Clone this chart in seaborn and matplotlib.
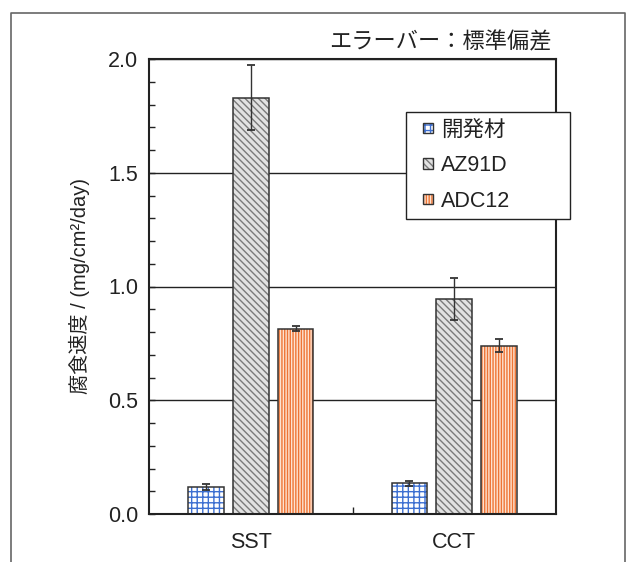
import numpy as np
import pandas as pd
import matplotlib
matplotlib.use("Agg")
import matplotlib.pyplot as plt
import seaborn as sns
from matplotlib.patches import Rectangle, Patch
from matplotlib.lines import Line2D
from matplotlib.legend_handler import HandlerBase
from matplotlib.ticker import MultipleLocator, FixedLocator

# Corrosion rate (mean and standard deviation) per test and material
tests = ["SST", "CCT"]
materials = ["開発材", "AZ91D", "ADC12"]
rate_sst = [0.12, 1.83, 0.815]
rate_cct = [0.135, 0.945, 0.74]
sd_sst = [0.013, 0.143, 0.010]
sd_cct = [0.012, 0.092, 0.028]
y_ticks = [0.0, 0.5, 1.0, 1.5, 2.0]

ylabel = "腐食速度 / (mg/cm²/day)"
note = "エラーバー：標準偏差"

face_colors = ["white", "#e2e2e2", "#fde2d0"]
hatch_colors = ["#3d6fd1", "#7a7a7a", "#ee7535"]
hatches = ["+++", "\\\\\\\\\\", "||||||"]
ink = "#222222"
outline = "#333333"

df = pd.DataFrame({
    "test": np.repeat(tests, len(materials)),
    "material": materials * len(tests),
    "rate": rate_sst + rate_cct,
    "sd": sd_sst + sd_cct,
})


class SwatchHandler(HandlerBase):
    """Small hatched square with a dark outline, right-aligned in the handle box."""

    def create_artists(self, legend, orig_handle, xdescent, ydescent,
                       width, height, fontsize, trans):
        side = 0.48 * fontsize
        x = -xdescent + width - side
        y = -ydescent + (height - side) / 2
        fill = Rectangle((x, y), side, side, fc=orig_handle.get_facecolor(),
                         ec=orig_handle.get_edgecolor(), hatch=orig_handle.get_hatch(),
                         lw=0, transform=trans)
        edge = Rectangle((x, y), side, side, fill=False, ec=outline, lw=1.0,
                         transform=trans)
        return [fill, edge]


sns.set_theme(style="white")
plt.rcParams["font.family"] = ["Liberation Sans", "Noto Sans CJK JP"]
plt.rcParams["hatch.linewidth"] = 1.0
plt.rcParams["text.color"] = ink
plt.rcParams["axes.labelcolor"] = ink
plt.rcParams["xtick.color"] = ink
plt.rcParams["ytick.color"] = ink

W, H = 627, 562
fig = plt.figure(figsize=(W / 100, H / 100), dpi=100)
ax = fig.add_axes([149 / W, 1 - 514 / H, (556 - 149) / W, (514 - 59) / H])

sns.barplot(data=df, x="test", y="rate", hue="material", order=tests,
            hue_order=materials, palette=["white"] * 3, saturation=1,
            width=0.66, gap=0.2, errorbar=None, legend=False,
            linewidth=0, ax=ax)

# hatched fills, dark outlines and standard-deviation error bars
for container, mat, fc, hc, hp in zip(ax.containers, materials, face_colors,
                                      hatch_colors, hatches):
    sub = df[df["material"] == mat].set_index("test").loc[tests]
    for bar, (_, row) in zip(container, sub.iterrows()):
        bar.set_facecolor(fc)
        bar.set_edgecolor(hc)
        bar.set_hatch(hp)
        bar.set_linewidth(0)
        x0, w = bar.get_x(), bar.get_width()
        ax.add_patch(Rectangle((x0, 0), w, row["rate"], fill=False,
                               ec=outline, lw=1.1, zorder=bar.get_zorder() + 0.1))
        ax.errorbar(x0 + w / 2, row["rate"], yerr=row["sd"], fmt="none",
                    ecolor=outline, elinewidth=1.0, capsize=3.0,
                    capthick=1.3, zorder=bar.get_zorder() + 0.2)

ax.set_xlim(-0.5, 1.5)
ax.set_ylim(0, 2.0)
ax.set_xlabel("")
ax.set_ylabel(ylabel, fontsize=14.5)
ax.yaxis.set_label_coords(-0.145, 0.5)

ax.set_yticks(y_ticks)
ax.set_yticklabels([f"{v:.1f}" for v in y_ticks])
ax.yaxis.set_minor_locator(MultipleLocator(0.1))
ax.tick_params(axis="y", which="both", direction="in", left=True, right=False,
               length=4.5, width=1.0, labelsize=15.5, pad=8)

ax.set_xticks(range(len(tests)))
ax.set_xticklabels(tests)
ax.tick_params(axis="x", which="major", length=0, labelsize=15.5, pad=13)
ax.xaxis.set_minor_locator(FixedLocator([0.5]))
ax.tick_params(axis="x", which="minor", direction="in", bottom=True,
               length=5, width=1.0)

ax.yaxis.grid(True, color=ink, lw=1.0)
ax.set_axisbelow(True)
for s in ax.spines.values():
    s.set_color(ink)
    s.set_linewidth(1.5)
    s.set_visible(True)

handles = [Patch(fc=fc, ec=hc, hatch=hp, lw=0)
           for fc, hc, hp in zip(face_colors, hatch_colors, hatches)]
leg = ax.legend(handles, materials, loc="upper left",
                bbox_to_anchor=(406 / W, 1 - 218 / H, 164 / W, 106 / H),
                bbox_transform=fig.transFigure, mode="expand",
                borderaxespad=0, fancybox=False, frameon=True,
                edgecolor=ink, framealpha=1, fontsize=15.5,
                handler_map={Patch: SwatchHandler()},
                handlelength=0.9, handleheight=0.7, handletextpad=0.35,
                labelspacing=0.67, borderpad=0.36)
leg.get_frame().set_linewidth(1.0)
leg.set_zorder(10)

fig.text(552 / W, 1 - 43 / H, note, ha="right", va="center", fontsize=16)

# outer panel frame
fx0, fx1, fy1 = 10.5 / W, 624.5 / W, 1 - 12.5 / H
fig.add_artist(Line2D([fx0, fx0, fx1, fx1], [-0.05, fy1, fy1, -0.05],
                      transform=fig.transFigure, color="#666666", lw=1.2))

fig.savefig("out.png", dpi=100)
